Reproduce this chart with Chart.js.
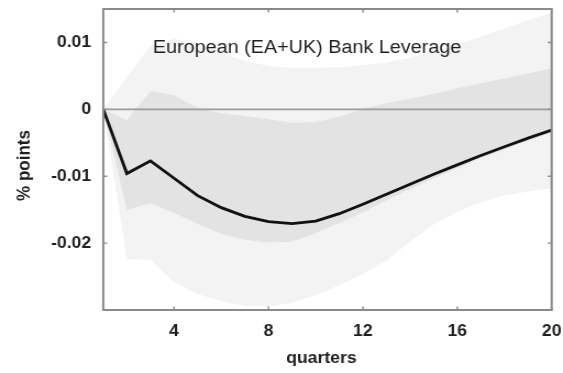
<!DOCTYPE html>
<html>
<head>
<meta charset="utf-8">
<script src="https://cdn.jsdelivr.net/npm/chart.js@4.4.1/dist/chart.umd.min.js"></script>
<style>
  html, body { margin: 0; padding: 0; background: #fff; overflow: hidden; }
  #wrap { width: 512px; height: 373px; transform: scaleX(1.0996); transform-origin: 0 0; }
  canvas { display: block; }
</style>
</head>
<body>
<div id="wrap"><canvas id="irf" width="512" height="373" style="width:512px;height:373px"></canvas></div>
<script>
// Impulse response of European (EA+UK) bank leverage, in % points, by quarter
const quarters = [1, 2, 3, 4, 5, 6, 7, 8, 9, 10, 11, 12, 13, 14, 15, 16, 17, 18, 19, 20];

const medianResponse = [0, -0.0096, -0.0077, -0.0103, -0.0129, -0.0147, -0.0160, -0.0168, -0.0171, -0.0167,
                        -0.0156, -0.0142, -0.0127, -0.0112, -0.0097, -0.0083, -0.0069, -0.0056, -0.0043, -0.0031];

// inner (darker) credible band
const innerUpper = [0, -0.0016, 0.0027, 0.0021, 0.0002, -0.0006, -0.0010, -0.0015, -0.0020, -0.0019,
                    -0.0011, 0.0001, 0.0009, 0.0016, 0.0023, 0.0031, 0.0039, 0.0046, 0.0054, 0.0061];
const innerLower = [0, -0.0150, -0.0140, -0.0155, -0.0171, -0.0186, -0.0195, -0.0199, -0.0198, -0.0185,
                    -0.0170, -0.0154, -0.0136, -0.0119, -0.0103, -0.0088, -0.0073, -0.0060, -0.0047, -0.0035];

// outer (lighter) credible band
const outerUpper = [0, 0.0048, 0.0095, 0.0105, 0.0098, 0.0085, 0.0072, 0.0065, 0.0062, 0.0062,
                    0.0063, 0.0066, 0.0070, 0.0077, 0.0086, 0.0097, 0.0109, 0.0121, 0.0133, 0.0145];
const outerLower = [0, -0.0224, -0.0225, -0.0258, -0.0276, -0.0287, -0.0294, -0.0295, -0.0289, -0.0278,
                    -0.0263, -0.0246, -0.0226, -0.0198, -0.0172, -0.0153, -0.0139, -0.0129, -0.0123, -0.0118];

const xTickValues = [4, 8, 12, 16, 20];
const yTickValues = [0.01, 0, -0.01, -0.02];
const yTickLabels = ['0.01', '0', '-0.01', '-0.02'];

const chartTitle = 'European (EA+UK) Bank Leverage';
const xAxisTitle = 'quarters';
const yAxisTitle = '% points';

const FONT = '"Liberation Sans", Arial, Helvetica, sans-serif';
const FRAME = '#8a8a8a';
const TEXT = '#1e1e1e';

const pts = arr => quarters.map((q, i) => ({ x: q, y: arr[i] }));

// keep the plot box fixed: no extra room reserved for edge labels
const fixBox = (s, prop, size) => {
  s[prop] = size;
  s.paddingTop = 0; s.paddingBottom = 0; s.paddingLeft = 0; s.paddingRight = 0;
};

// frame, inward tick marks, zero line and text labels
const decorations = {
  id: 'decorations',
  beforeDatasetDraw(chart, args) {
    if (args.index !== 0) return;
    const { ctx, chartArea: a, scales: { y } } = chart;
    const y0 = y.getPixelForValue(0);
    ctx.save();
    ctx.strokeStyle = '#9c9c9c';
    ctx.lineWidth = 1.6;
    ctx.beginPath();
    ctx.moveTo(a.left, y0);
    ctx.lineTo(a.right, y0);
    ctx.stroke();
    ctx.restore();
  },
  afterDraw(chart) {
    const { ctx, chartArea: a, scales: { x, y } } = chart;
    ctx.save();
    ctx.strokeStyle = FRAME;
    ctx.lineWidth = 2;
    ctx.strokeRect(a.left, a.top, a.right - a.left, a.bottom - a.top);

    ctx.lineWidth = 1.4;
    const tl = 3.5;
    ctx.beginPath();
    xTickValues.forEach(v => {
      const px = x.getPixelForValue(v);
      ctx.moveTo(px, a.bottom); ctx.lineTo(px, a.bottom - tl);
      ctx.moveTo(px, a.top); ctx.lineTo(px, a.top + tl);
    });
    yTickValues.forEach(v => {
      const py = y.getPixelForValue(v);
      ctx.moveTo(a.left, py); ctx.lineTo(a.left + tl, py);
      ctx.moveTo(a.right, py); ctx.lineTo(a.right - tl, py);
    });
    ctx.stroke();

    ctx.fillStyle = TEXT;
    ctx.textBaseline = 'alphabetic';

    ctx.font = '18px ' + FONT;
    ctx.textAlign = 'left';
    ctx.fillText(chartTitle, a.left + 45, 52.5);

    ctx.font = 'bold 16px ' + FONT;
    ctx.textAlign = 'center';
    ctx.fillText(xAxisTitle, (a.left + a.right) / 2 - 5.5, 362.5);

    ctx.font = 'bold 17px ' + FONT;
    ctx.translate(26.6, 165.5);
    ctx.rotate(-Math.PI / 2);
    ctx.textAlign = 'center';
    ctx.fillText(yAxisTitle, 0, 0);
    ctx.restore();
  }
};

new Chart(document.getElementById('irf'), {
  type: 'line',
  data: {
    datasets: [
      { label: 'median', data: pts(medianResponse), borderColor: '#111', borderWidth: 2.8,
        pointRadius: 0, fill: false, order: 0 },
      { label: 'inner upper', data: pts(innerUpper), borderColor: 'rgba(0,0,0,0)', borderWidth: 0,
        backgroundColor: 'rgb(227,227,227)', pointRadius: 0, fill: 2, order: 1 },
      { label: 'inner lower', data: pts(innerLower), borderColor: 'rgba(0,0,0,0)', borderWidth: 0,
        pointRadius: 0, fill: false, order: 2 },
      { label: 'outer upper', data: pts(outerUpper), borderColor: 'rgba(0,0,0,0)', borderWidth: 0,
        backgroundColor: 'rgb(243,243,243)', pointRadius: 0, fill: 4, order: 3 },
      { label: 'outer lower', data: pts(outerLower), borderColor: 'rgba(0,0,0,0)', borderWidth: 0,
        pointRadius: 0, fill: false, order: 4 }
    ]
  },
  options: {
    responsive: false,
    animation: false,
    events: [],
    layout: { padding: { top: 9, right: 10.3, bottom: 0, left: 0 } },
    plugins: { legend: { display: false }, tooltip: { enabled: false } },
    scales: {
      x: {
        type: 'linear', min: 1, max: 20,
        grid: { display: false, drawTicks: false },
        border: { display: false },
        afterBuildTicks: s => { s.ticks = xTickValues.map(v => ({ value: v })); },
        afterFit: s => fixBox(s, 'height', 63),
        ticks: { padding: 12, color: TEXT, font: { family: FONT, size: 16, weight: 'bold' },
                 maxRotation: 0, autoSkip: false, callback: v => String(v) }
      },
      y: {
        type: 'linear', min: -0.03, max: 0.015,
        grid: { display: false, drawTicks: false },
        border: { display: false },
        afterBuildTicks: s => { s.ticks = yTickValues.map(v => ({ value: v })); },
        afterFit: s => fixBox(s, 'width', 93.9),
        ticks: { padding: 11, color: TEXT, font: { family: FONT, size: 16, weight: 'bold' },
                 autoSkip: false, callback: v => yTickLabels[yTickValues.indexOf(v)] }
      }
    }
  },
  plugins: [decorations]
});
</script>
</body>
</html>
